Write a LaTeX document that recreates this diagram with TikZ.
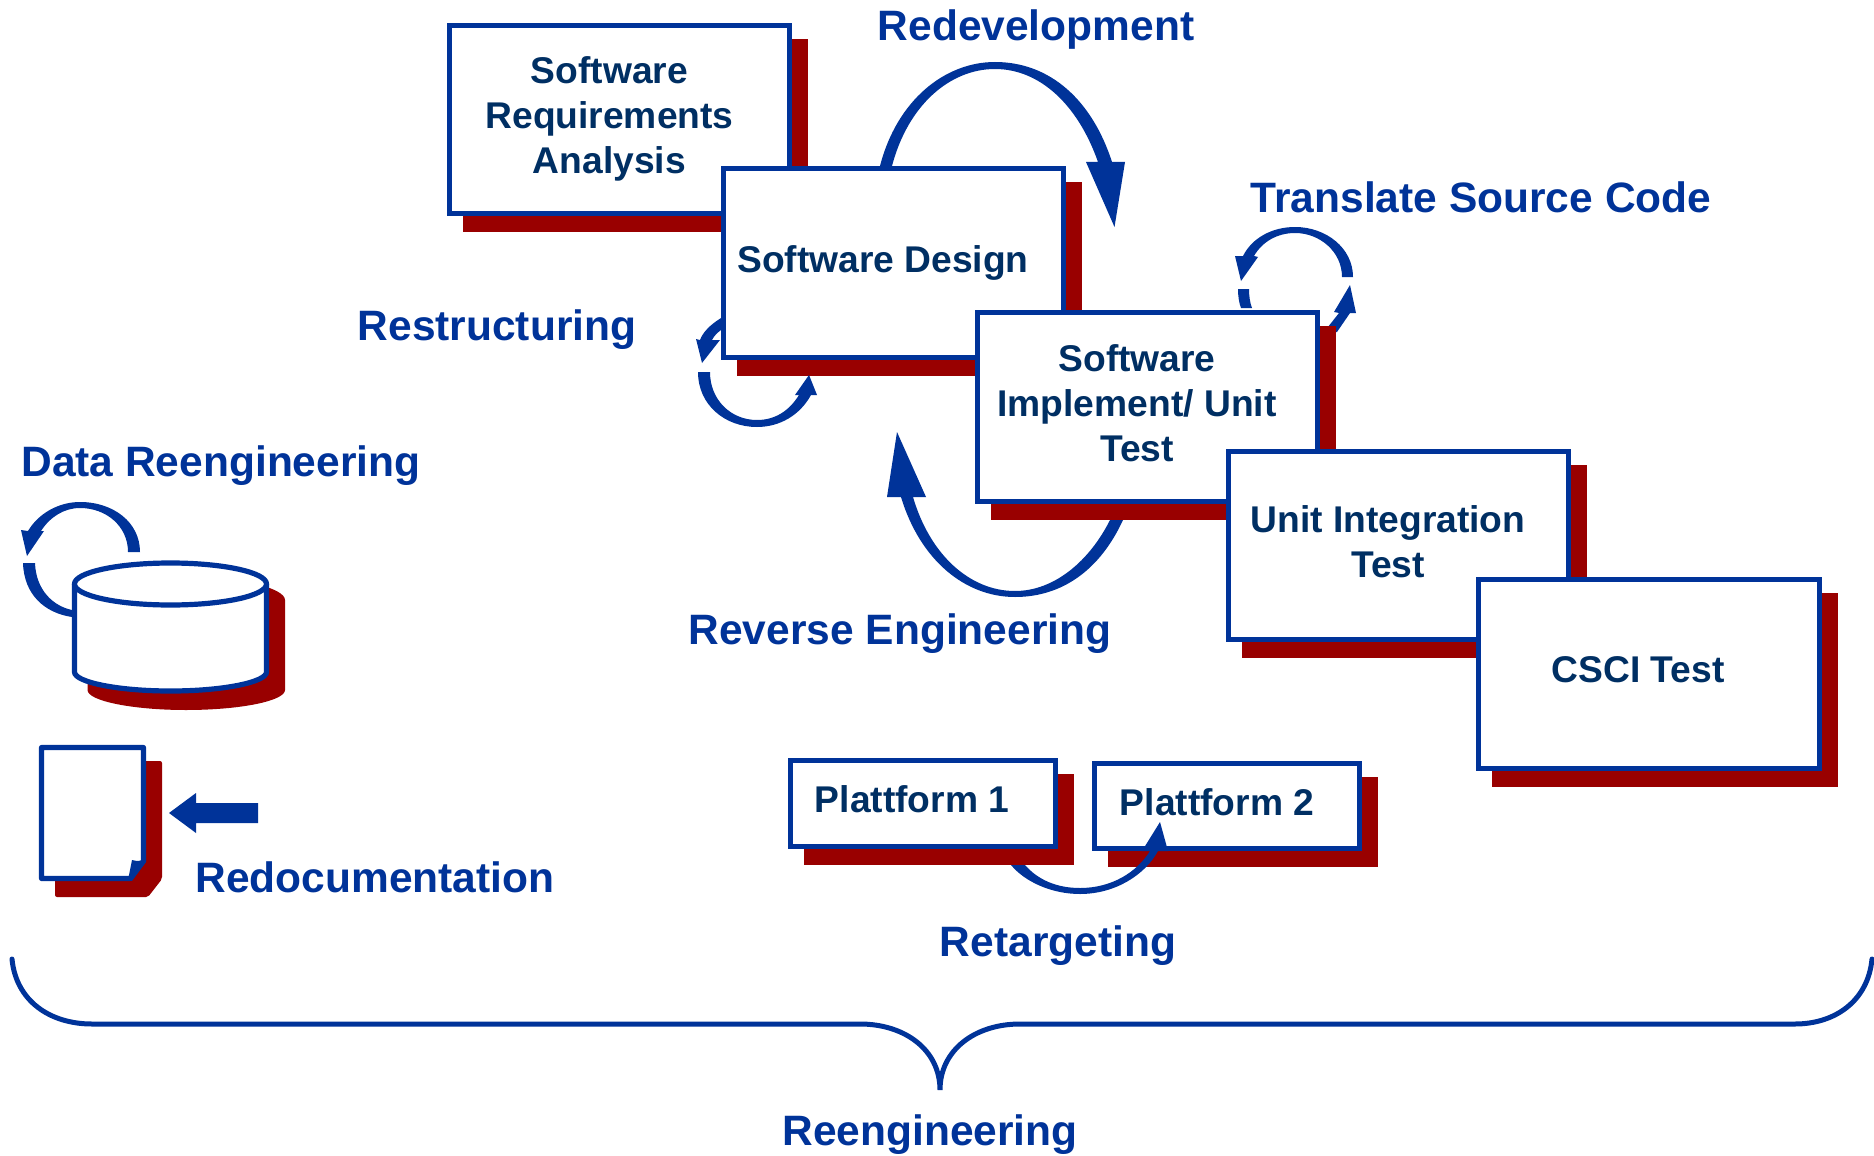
\documentclass[tikz,border=0pt]{standalone}
\usepackage{fontspec}
\setmainfont{Liberation Sans}
\usetikzlibrary{fit,calc}
\definecolor{bblue}{HTML}{003399}
\definecolor{bred}{HTML}{990000}
\definecolor{bnavy}{HTML}{002F63}
\tikzset{
  boxnode/.style={draw=bblue,line width=2.7pt,fill=white,inner sep=0pt,rectangle,sharp corners},
  shadowfill/.style={fill=bred,draw=none},
  arrowfill/.style={fill=bblue,draw=none},
  boxtext/.style={text=bnavy,font=\fontsize{18.6}{22.5}\selectfont\bfseries,align=center,inner sep=0pt},
  labeltext/.style={text=bblue,font=\fontsize{21.25}{25}\selectfont\bfseries,inner sep=0pt},
  outline/.style={draw=bblue,line width=2.6pt,line join=round,fill=white},
  bracestroke/.style={draw=bblue,line width=2.5pt,line cap=round}
}
% #1 name, outer corners (#2,#3) and (#4,#5)
\newcommand{\shadowbox}[5]{%
  \coordinate (#1a) at ({#2+2.5},{#3+2.5});
  \coordinate (#1b) at ({#4-2.5},{#5-2.5});
  \fill[shadowfill] ({#2+16},{#3+16}) rectangle ({#4+16},{#5+16});
  \node[boxnode,fit=(#1a)(#1b)] (#1) {};
}
\begin{document}
\begin{tikzpicture}[x=0.5pt,y=-0.5pt]
\useasboundingbox (0,0) rectangle (1874,1156);
\fill[white] (0,0) rectangle (1874,1156);

% arrows whose tails run under the boxes
\coordinate (transTail) at (1337,332);
\fill[arrowfill] (1324,332) -- (1339,313) -- (1334,312) -- (1350,285) -- (1356,313) -- (1350,313) -- (transTail) -- cycle;

\shadowbox{sra}{447}{23}{792}{216}
\shadowbox{design}{721}{166}{1066}{360}
\shadowbox{impl}{975}{310}{1320}{504}
\shadowbox{unit}{1226}{449}{1571}{642}
\shadowbox{csci}{1476}{577}{1822}{771}
\shadowbox{plat1}{788}{758}{1058}{849}
\shadowbox{plat2}{1092}{761}{1362}{851}

\node[boxtext] (sraT) at (609.5,119) {Software\\Requirements\\Analysis};
\node[boxtext] (designT) at (883,263) {Software Design};
\node[boxtext] (implT) at (1137,403) {Software\\Implement/ Unit\\Test};
\node[boxtext] (unitT) at (1388,542) {Unit Integration\\Test};
\node[boxtext] (csciT) at (1638,670) {CSCI Test};
\node[boxtext] (plat1T) at (912,799) {Plattform 1};
\node[boxtext] (plat2T) at (1217,802) {Plattform 2};

\node[labeltext] (redev) at (1036,30) {Redevelopment};
\node[labeltext] (trans) at (1481,197) {Translate Source Code};
\node[labeltext] (restr) at (497,330) {Restructuring};
\node[labeltext] (data) at (221,466) {Data Reengineering};
\node[labeltext] (rev) at (900,634) {Reverse Engineering};
\node[labeltext] (redoc) at (375,877) {Redocumentation};
\node[labeltext] (retar) at (1058,946) {Retargeting};
\node[labeltext] (reeng) at (930,1135) {Reengineering};

% Redevelopment
\fill[arrowfill] (880,166) .. controls (897,100) and (945,62) .. (995,62)
  .. controls (1050,62) and (1092,100) .. (1112,162)
  -- (1125,162) -- (1114.5,227) -- (1086,162) -- (1098,162)
  .. controls (1078,105) and (1040,69) .. (995,69)
  .. controls (950,69) and (908,105) .. (892,166) -- cycle;
% Reverse engineering
\fill[arrowfill] (1123,520) .. controls (1100,570) and (1062,597) .. (1015,597)
  .. controls (965,597) and (920,560) .. (901,497)
  -- (887,497) -- (897,432) -- (926,497) -- (913,497)
  .. controls (930,555) and (970,591) .. (1015,591)
  .. controls (1055,591) and (1090,560) .. (1110,520) -- cycle;
% Translate source code
\fill[arrowfill] (1353,277) .. controls (1353,248) and (1326,227) .. (1295,227)
  .. controls (1272,227) and (1252,238) .. (1243,256)
  -- (1235,256) -- (1241,281) -- (1258,257) -- (1254,256)
  .. controls (1262,242) and (1277,233) .. (1295,233)
  .. controls (1320,233) and (1342,252) .. (1342,277) -- cycle;
\fill[arrowfill] (1238,289) .. controls (1238,296) and (1239,303) .. (1241,308)
  -- (1252,308) .. controls (1250,303) and (1249,296) .. (1249,289) -- cycle;
% Restructuring
\fill[arrowfill] (721,318) .. controls (710,325) and (703,332) .. (700,340)
  -- (696,339) -- (702,363) -- (720,340) -- (712,340)
  .. controls (714,336) and (717,333) .. (721,330) -- cycle;
\fill[arrowfill] (698,372) .. controls (698,405) and (725,427) .. (757,427)
  .. controls (780,427) and (800,415) .. (811,395)
  -- (817,395) -- (809,375) -- (795,395) -- (799,395)
  .. controls (789,411) and (775,420) .. (757,420)
  .. controls (731,420) and (710,400) .. (710,372) -- cycle;
% Retargeting
\fill[arrowfill] (1011,865) .. controls (1025,882) and (1052,894) .. (1080,894)
  .. controls (1115,894) and (1145,875) .. (1158,851)
  -- (1168,851) -- (1160,822) -- (1142,851) -- (1150,851)
  .. controls (1137,872) and (1112,888) .. (1080,888)
  .. controls (1057,888) and (1038,880) .. (1025,865) -- cycle;

% Data store
\fill[arrowfill] (140,552) .. controls (140,522) and (113,502) .. (80,502)
  .. controls (58,502) and (38,514) .. (28,531)
  -- (21,530) -- (27,556) -- (44,531) -- (41,531)
  .. controls (50,517) and (64,508) .. (80,508)
  .. controls (106,508) and (128,526) .. (128,552) -- cycle;
\fill[arrowfill] (23,563) .. controls (24,595) and (45,613) .. (72,617)
  -- (72,610) .. controls (53,606) and (36,590) .. (35,563) -- cycle;
\fill[shadowfill] (87.5,600) .. controls (87.5,588) and (133,577) .. (186,577)
  .. controls (240,577) and (285,588) .. (285,600)
  -- (285,690) .. controls (285,701) and (240,710) .. (186,710)
  .. controls (133,710) and (87.5,701) .. (87.5,690) -- cycle;
\draw[outline] (74.5,584) -- (74.5,672) .. controls (74.5,682) and (117,691) .. (170.5,691)
  .. controls (224,691) and (266.5,682) .. (266.5,672) -- (266.5,584);
\draw[outline] (170.5,584) ellipse [x radius=96,y radius=21];

% Document
\fill[shadowfill,rounded corners=1pt] (55,761) -- (162,761) -- (162,879) -- (148,897) -- (55,897) -- cycle;
\draw[outline] (41.5,747.5) -- (143.5,747.5) -- (143.5,861) -- (130,878.5) -- (41.5,878.5) -- cycle;
\fill[arrowfill] (128,880) -- (132,860) -- (137,861) -- (146,860) -- (146,862) -- (132,881) -- cycle;
\coordinate (docIn) at (169,813);
\coordinate (docFrom) at (258,813);
\fill[arrowfill] (docIn) -- (196,793) -- (196,803) -- (258,803) -- (258,823) -- (196,823) -- (196,833) -- cycle;

% Brace
\coordinate (braceL) at (12,959);
\coordinate (braceR) at (1872,959);
\coordinate (braceTip) at (940,1090);
\draw[bracestroke] (braceL) .. controls (16,1001) and (50,1024) .. (92,1024)
  -- (860,1024) .. controls (905,1024) and (940,1050) .. (braceTip)
  .. controls (940,1050) and (975,1024) .. (1020,1024)
  -- (1795,1024) .. controls (1835,1024) and (1868,1001) .. (braceR);
\end{tikzpicture}
\end{document}
